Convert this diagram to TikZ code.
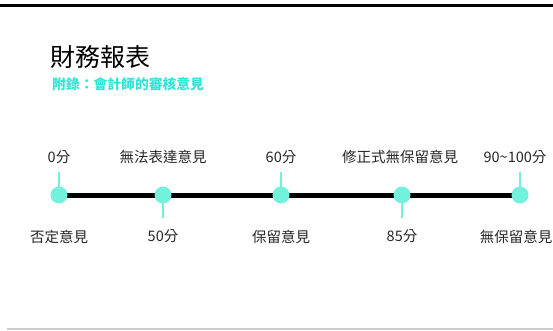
\documentclass[tikz,border=0pt]{standalone}
\usepackage{fontspec}
\setmainfont{Noto Sans CJK TC}
\usetikzlibrary{positioning}
\definecolor{mint}{HTML}{72F2DC}
\definecolor{aqua}{HTML}{2FE6D6}

\begin{document}
\begin{tikzpicture}[x=1pt, y=-1pt,
	dot/.style={circle, fill=mint, inner sep=0pt, minimum size=17pt},
	tick/.style={draw=mint, line width=2pt},
	axis/.style={draw=black, line width=5pt},
	lbl/.style={font=\fontsize{14.5}{16}\selectfont, text=black!85, inner sep=0pt},
	node distance=22pt]
	\useasboundingbox (0,0) rectangle (553,331);

	% Frame lines
	\draw [line width=3pt] (0,6) -- (553,6);
	\draw [black!20, line width=1.5pt] (7,329) -- (553,329);

	% Heading
	\node [anchor=west, inner sep=0pt, font=\fontsize{25}{28}\selectfont] (title) at (50,57) {財務報表};
	\node [anchor=west, inner sep=0pt, text=aqua, font=\bfseries\fontsize{13.8}{15}\selectfont] (sub) at (52,84) {附錄：會計師的審核意見};

	% Points on the scale
	\coordinate (p0) at (59,195);
	\coordinate (p1) at (163,195);
	\coordinate (p2) at (281,195);
	\coordinate (p3) at (402,195);
	\coordinate (p4) at (520,195);

	% Axis and ticks
	\draw [axis] (p0) -- (p4);
	\draw [tick] (p0) -- ++(0,-23) coordinate (t0);
	\draw [tick] (p1) -- ++(0,23)  coordinate (t1);
	\draw [tick] (p2) -- ++(0,-23) coordinate (t2);
	\draw [tick] (p3) -- ++(0,23)  coordinate (t3);
	\draw [tick] (p4) -- ++(0,-23) coordinate (t4);

	% Dots
	\node [dot] (d0) at (p0) {};
	\node [dot] (d1) at (p1) {};
	\node [dot] (d2) at (p2) {};
	\node [dot] (d3) at (p3) {};
	\node [dot] (d4) at (p4) {};

	% Labels above
	\node [lbl, above=of d0]              (a0) {0分};
	\node [lbl, above=of d1]              (a1) {無法表達意見};
	\node [lbl, above=of d2]              (a2) {60分};
	\node [lbl, above=of d3, xshift=-2pt] (a3) {修正式無保留意見};
	\node [lbl, above=of d4, xshift=-5pt] (a4) {90\char"7E 100分};

	% Labels below
	\node [lbl, below=26pt of d0]              (b0) {否定意見};
	\node [lbl, below=26pt of d1]              (b1) {50分};
	\node [lbl, below=26pt of d2]              (b2) {保留意見};
	\node [lbl, below=26pt of d3]              (b3) {85分};
	\node [lbl, below=26pt of d4, xshift=-4pt] (b4) {無保留意見};
\end{tikzpicture}
\end{document}
